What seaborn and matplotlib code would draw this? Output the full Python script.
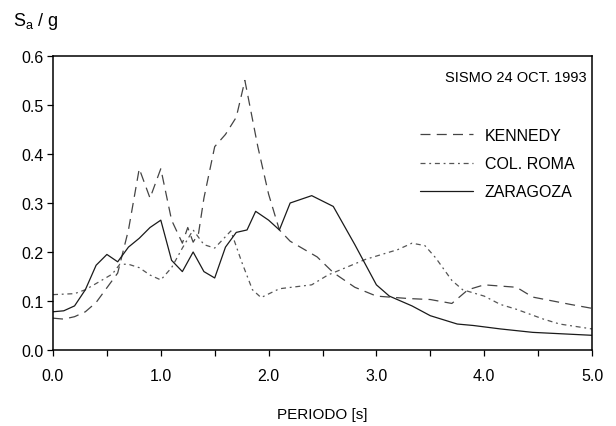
import numpy as np
import matplotlib
matplotlib.use("Agg")
import matplotlib.pyplot as plt
from matplotlib.ticker import MultipleLocator, FormatStrFormatter
import seaborn as sns

# ── Data ─────────────────────────────────────────────────────────────────────
T_KENNEDY = [0.0, 0.1, 0.2, 0.3, 0.4, 0.5, 0.6, 0.7, 0.8, 0.9, 1.0, 1.1, 1.2,
             1.25, 1.3, 1.35, 1.4, 1.5, 1.6, 1.7, 1.78, 1.9, 2.0, 2.1, 2.2,
             2.45, 2.6, 2.8, 3.0, 3.3, 3.5, 3.7, 3.85, 4.0, 4.3, 4.45, 4.8, 5.0]
SA_KENNEDY = [0.065, 0.063, 0.068, 0.078, 0.097, 0.127, 0.157, 0.245, 0.37, 0.31,
              0.37, 0.265, 0.218, 0.25, 0.22, 0.238, 0.31, 0.415, 0.44, 0.475,
              0.55, 0.415, 0.318, 0.245, 0.222, 0.19, 0.158, 0.128, 0.11, 0.105,
              0.103, 0.095, 0.123, 0.133, 0.128, 0.108, 0.093, 0.085]

T_ROMA = [0.0, 0.2, 0.3, 0.45, 0.55, 0.62, 0.7, 0.8, 0.9, 1.0, 1.1, 1.2, 1.3,
          1.4, 1.5, 1.65, 1.75, 1.85, 1.93, 2.1, 2.4, 2.55, 2.9, 3.2, 3.33,
          3.45, 3.55, 3.7, 3.8, 4.0, 4.15, 4.3, 4.55, 4.7, 5.0]
SA_ROMA = [0.113, 0.115, 0.123, 0.142, 0.155, 0.175, 0.175, 0.168, 0.153, 0.143,
           0.168, 0.208, 0.245, 0.215, 0.208, 0.243, 0.18, 0.123, 0.107, 0.125,
           0.133, 0.153, 0.185, 0.205, 0.218, 0.213, 0.188, 0.142, 0.123, 0.11,
           0.093, 0.083, 0.063, 0.053, 0.043]

T_ZARAGOZA = [0.0, 0.1, 0.2, 0.3, 0.4, 0.5, 0.6, 0.7, 0.8, 0.9, 1.0, 1.1, 1.2,
              1.3, 1.4, 1.5, 1.6, 1.7, 1.8, 1.88, 2.0, 2.1, 2.2, 2.4, 2.6, 2.8,
              3.0, 3.12, 3.33, 3.5, 3.75, 3.9, 4.15, 4.45, 5.0]
SA_ZARAGOZA = [0.078, 0.08, 0.09, 0.123, 0.173, 0.195, 0.18, 0.21, 0.228, 0.25,
               0.265, 0.183, 0.16, 0.2, 0.16, 0.147, 0.21, 0.24, 0.245, 0.283,
               0.265, 0.245, 0.3, 0.315, 0.293, 0.215, 0.133, 0.11, 0.09, 0.07,
               0.053, 0.05, 0.043, 0.036, 0.03]

LABELS = ["KENNEDY", "COL. ROMA", "ZARAGOZA"]
XTICKS = [0.0, 1.0, 2.0, 3.0, 4.0, 5.0]

# ── Plot ─────────────────────────────────────────────────────────────────────
sns.set_style("ticks")
plt.rcParams["font.family"] = ["Liberation Sans", "DejaVu Sans"]
plt.rcParams["text.color"] = "black"
plt.rcParams["axes.labelcolor"] = "black"
plt.rcParams["xtick.color"] = "black"
plt.rcParams["ytick.color"] = "black"

fig = plt.figure(figsize=(6.16, 4.27), dpi=100)
ax = fig.add_axes([53 / 616, 1 - 351 / 427, (592 - 53) / 616, (351 - 57) / 427])

sns.lineplot(x=T_KENNEDY, y=SA_KENNEDY, ax=ax, color="#444444", lw=0.9,
             dashes=False, label=LABELS[0])
sns.lineplot(x=T_ROMA, y=SA_ROMA, ax=ax, color="#555555", lw=0.9,
             dashes=False, label=LABELS[1])
sns.lineplot(x=T_ZARAGOZA, y=SA_ZARAGOZA, ax=ax, color="#1a1a1a", lw=0.9,
             dashes=False, label=LABELS[2])

lines = ax.get_lines()
lines[0].set_dashes((8, 5))
lines[1].set_dashes((4, 3, 1.5, 3))

ax.set_xlim(0, 5)
ax.set_ylim(0, 0.6)
ax.set_xticks(XTICKS)
ax.xaxis.set_minor_locator(MultipleLocator(0.5))
ax.yaxis.set_major_locator(MultipleLocator(0.1))
ax.xaxis.set_major_formatter(FormatStrFormatter("%.1f"))
ax.yaxis.set_major_formatter(FormatStrFormatter("%.1f"))
ax.tick_params(axis="x", which="both", direction="out", length=4, width=0.9,
               pad=9, labelsize=11.5)
ax.tick_params(axis="y", direction="out", length=4, width=0.9, pad=3,
               labelsize=11.5)

for s in ax.spines.values():
    s.set_visible(True)
    s.set_color("black")
    s.set_linewidth(1.1)

ax.set_xlabel("PERIODO [s]", fontsize=11, labelpad=17)
ax.set_ylabel("")
fig.text(13 / 616, 1 - 21 / 427, r"S$_\mathregular{a}$ / g", fontsize=13,
         ha="left", va="center")

ax.text(0.99, 1 - (78 - 57) / 294, "SISMO 24 OCT. 1993", transform=ax.transAxes,
        ha="right", va="center", fontsize=10.5)

ax.legend(frameon=False, loc="upper left", fontsize=11.5,
          bbox_to_anchor=(420 / 616, 1 - 129 / 427), bbox_transform=fig.transFigure,
          borderpad=0, borderaxespad=0, handlelength=3.3, handletextpad=0.75,
          labelspacing=0.82)

fig.savefig("out.png", dpi=100)
plt.close(fig)
